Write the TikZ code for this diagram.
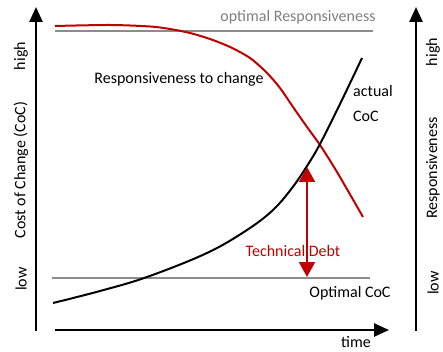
\documentclass[tikz,border=0pt]{standalone}
\usepackage{fontspec}
\setmainfont{Carlito}
\usetikzlibrary{arrows.meta}
\definecolor{dred}{HTML}{C00000}
\definecolor{lgray}{HTML}{8C8C8C}
\definecolor{tgray}{HTML}{7F7F7F}
\tikzset{
  axis/.style={line width=2.5pt, -{Triangle[width=13pt,length=15pt]}},
  optline/.style={line width=2.2pt, lgray},
  curve/.style={line width=2pt},
  lbl/.style={font=\fontsize{16}{18}\selectfont, inner sep=0pt},
}
\begin{document}
\begin{tikzpicture}[x=1pt,y=-1pt]
\useasboundingbox (0,0) rectangle (443,352);
% axes
\coordinate (lb) at (36,331);
\coordinate (lt) at (36,7);
\coordinate (rb) at (416,331);
\coordinate (rt) at (416,7);
\coordinate (tl) at (55,330);
\coordinate (tr) at (389,330);
\draw[axis] (lb) -- (lt);
\draw[axis] (rb) -- (rt);
\draw[axis] (tl) -- (tr);
% optimal lines
\coordinate (or1) at (55,31);
\coordinate (or2) at (373,31);
\coordinate (oc1) at (52,278);
\coordinate (oc2) at (370,278);
\draw[optline] (or1) -- (or2);
\draw[optline] (oc1) -- (oc2);
% curves
\draw[curve, dred] plot[smooth, tension=0.5] coordinates {(55,26) (110,25) (150,26.5) (170,29) (190,33) (210,39) (230,47) (250,58) (267,73) (280,88) (293,107) (307,127) (320,145) (337,172) (363,217)};
\draw[curve] plot[smooth, tension=0.6] coordinates {(53,303) (100,291) (147,277) (207,253) (247,230) (273,210) (292,188) (307,166) (320,144) (340,104) (362,58)};
% technical debt arrow
\coordinate (td1) at (307,277);
\coordinate (td2) at (307,167);
\draw[line width=2pt, dred, {Triangle[width=16pt,length=15pt]}-{Triangle[width=16pt,length=15pt]}] (td1) -- (td2);
% labels
\node[lbl, text=tgray] (optR) at (298,17) {optimal Responsiveness};
\node[lbl] (resp) at (179,79) {Responsiveness to change};
\node[lbl, anchor=west] (act) at (353,91) {actual};
\node[lbl, anchor=west] (coc) at (353,116) {CoC};
\node[lbl, text=dred] (tdebt) at (293,251) {Technical Debt};
\node[lbl] (optC) at (350,293) {Optimal CoC};
\node[lbl] (time) at (356,342) {time};
\node[lbl, rotate=90] (lhigh) at (21,56) {high};
\node[lbl, rotate=90] (lcoc) at (21,170) {Cost of Change (CoC)};
\node[lbl, rotate=90] (llow) at (21,279) {low};
\node[lbl, rotate=90] (rhigh) at (433,52) {high};
\node[lbl, rotate=90] (rresp) at (433,168) {Responsiveness};
\node[lbl, rotate=90] (rlow) at (433,283) {low};
\end{tikzpicture}
\end{document}
